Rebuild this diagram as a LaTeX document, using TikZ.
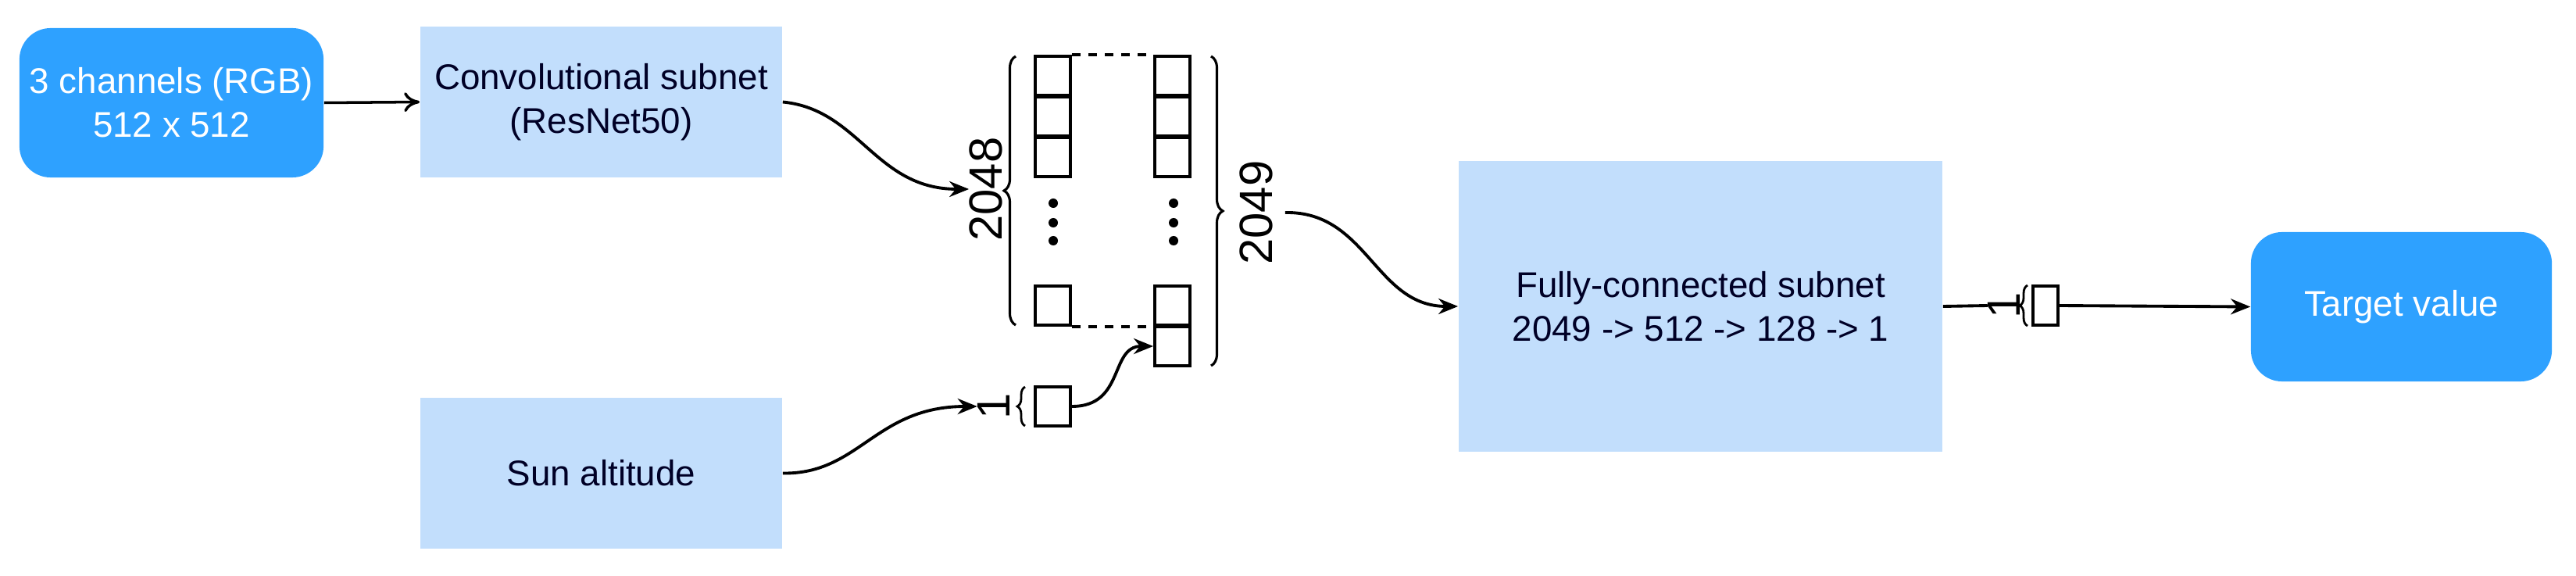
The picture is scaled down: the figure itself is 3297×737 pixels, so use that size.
\documentclass[tikz,border=0pt]{standalone}
\usepackage{fontspec}
\setmainfont{Liberation Sans}
\usetikzlibrary{arrows.meta,decorations.pathreplacing}
\definecolor{dark}{HTML}{2EA1FF}
\definecolor{light}{HTML}{C2DEFC}
\begin{document}
\begin{tikzpicture}[x=0.01cm,y=-0.01cm,
  dbox/.style={fill=dark,rounded corners=0.4cm,text=white,align=center,font=\fontsize{13}{16}\selectfont,inner sep=0pt},
  lbox/.style={fill=light,align=center,text=black!85!blue,font=\fontsize{13}{16}\selectfont,inner sep=0pt},
  cell/.style={draw,line width=1.1pt,minimum width=0.45cm,minimum height=0.5cm,inner sep=0pt},
  con/.style={line width=1.1pt,-{Stealth[length=0.25cm,width=0.2cm]}},
  brc/.style={decorate,decoration={brace,amplitude=0.15cm},line width=0.9pt},
  big/.style={font=\fontsize{17}{17}\selectfont,rotate=90,inner sep=0pt}]
\useasboundingbox (0,0) rectangle (3297,737);
\node[dbox,minimum width=3.89cm,minimum height=1.91cm] (rgb) at (219.5,131.5) {3 channels (RGB)\\512 x 512};
\node[lbox,minimum width=4.63cm,minimum height=1.93cm] (conv) at (769.5,130.5) {Convolutional subnet\\(ResNet50)};
\node[lbox,minimum width=4.63cm,minimum height=1.93cm] (sun) at (769.5,605.5) {Sun altitude};
\node[lbox,minimum width=6.19cm,minimum height=3.72cm] (fc) at (2176.5,392) {Fully-connected subnet\\2049 -> 512 -> 128 -> 1};
\node[dbox,minimum width=3.85cm,minimum height=1.91cm] (tv) at (3073.5,392.5) {Target value};
\draw[line width=1pt,-{To[length=0.2cm,width=0.25cm]}] (rgb.east) -- (conv.west);
% left column
\node[cell] (l1) at (1347.5,97) {};
\node[cell] (l2) at (1347.5,149) {};
\node[cell] (l3) at (1347.5,201) {};
\node[cell] (l4) at (1347.5,391) {};
\node[cell] (r1) at (1500.5,97) {};
\node[cell] (r2) at (1500.5,149) {};
\node[cell] (r3) at (1500.5,201) {};
\node[cell] (r4) at (1500.5,391) {};
\node[cell] (r5) at (1500.5,443) {};
\foreach \y in {260,285,308}{\fill (1348,\y) circle (0.06cm); \fill (1502,\y) circle (0.06cm);}
\draw[dashed,line width=1pt] (l1.north east) -- (r1.north west);
\draw[dashed,line width=1pt] (l4.south east) -- (r4.south west);
\draw[brc] (1300,416) -- (1300,72) coordinate[midway] (bl);
\draw[brc] (1550,72) -- (1550,468);
\coordinate (br) at (1568,270);
\node[big] (n2048) at (1262,242) {2048};
\node[big] (n2049) at (1608,272) {2049};
\node[cell] (s1) at (1347.5,520) {};
\draw[decorate,decoration={brace,amplitude=0.1cm},line width=0.8pt] (1312,545) -- (1312,495);
\node[big] (n1) at (1272,520) {1};
\draw[con] (conv.east) .. controls (1100,140) and (1120,242) .. (n2048.north);
\draw[con] (sun.east) .. controls (1100,607) and (1120,520) .. (n1.north);
\draw[con] (s1.east) .. controls (1440,520) and (1420,443) .. (r5.west);
\draw[con] (n2049.south) ++(15,0) coordinate (c1) .. controls (1750,270) and (1760,392) .. (fc.west);
\node[cell,minimum width=0.32cm] (o1) at (2618,391) {};
\draw[decorate,decoration={brace,amplitude=0.1cm},line width=0.8pt] (2595,417) -- (2595,365);
\node[big] (n1b) at (2565,391) {1};
\draw[line width=1.1pt] (fc.east) -- (n1b.north);
\draw[con] (o1.east) -- (tv.west);
\end{tikzpicture}
\end{document}
